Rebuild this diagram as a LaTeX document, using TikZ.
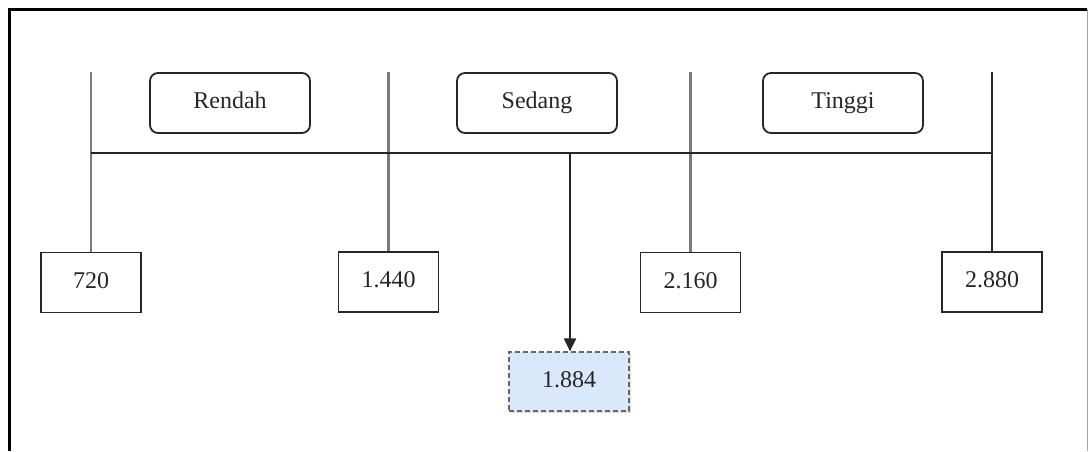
\documentclass[tikz,border=0pt]{standalone}
\usepackage{fontspec}
\setmainfont{Liberation Serif}
\usetikzlibrary{arrows.meta,shadows}
\definecolor{noteblue}{HTML}{DAE8FC}
\definecolor{tickgray}{HTML}{7A7A7A}
\tikzset{
  lbl/.style={font=\fontsize{24}{26}\selectfont, text=black!85,
    text height=16pt, text depth=5pt},
  valbox/.style={lbl, draw=black!85, line width=1.8pt, fill=white,
    minimum width=100pt, minimum height=60pt, inner sep=0pt},
  catbox/.style={lbl, draw=black!85, line width=1.8pt, fill=white,
    rounded corners=8pt, minimum width=160pt, minimum height=60pt, inner sep=0pt},
  resbox/.style={lbl, draw=black!60, dash pattern=on 5pt off 3pt, line width=1.2pt,
    fill=noteblue, minimum width=120pt, minimum height=59pt, inner sep=0pt,
    drop shadow={opacity=0.25, shadow xshift=2pt, shadow yshift=-2pt}},
  tick/.style={draw=tickgray, line width=2.6pt},
  axis/.style={draw=black!85, line width=2pt},
  frame/.style={draw=black, line width=3pt}
}
\begin{document}
\begin{tikzpicture}[x=1pt,y=-1pt]
  \useasboundingbox (0,0) rectangle (1088,451);
  % outer frame
  \draw[frame] (9,451) -- (9,9) -- (1087,9);
  \draw[draw=gray!70, line width=1pt] (1087,9) -- (1087,451);

  % category labels
  \node[catbox] (rendah) at (230,103) {Rendah};
  \node[catbox] (sedang) at (537,103) {Sedang};
  \node[catbox] (tinggi) at (843,103) {Tinggi};

  % boundary values
  \node[valbox] (v1) at (91,282.5) {720};
  \node[valbox] (v2) at (388.5,282) {1.440};
  \node[valbox] (v3) at (690.5,282.5) {2.160};
  \node[valbox] (v4) at (992,282) {2.880};

  % result value
  \node[resbox] (res) at (569,381.5) {1.884};

  % tick tops
  \coordinate (t1) at (91,72);
  \coordinate (t2) at (388.5,72);
  \coordinate (t3) at (690.5,72);
  \coordinate (t4) at (992,72);

  % ticks down to the boundary boxes
  \draw[tick] (t1) -- (v1.north);
  \draw[tick] (t2) -- (v2.north);
  \draw[tick] (t3) -- (v3.north);
  \draw[axis] (t4) -- (v4.north);

  % scale line
  \coordinate (h1) at (91,153);
  \coordinate (h4) at (992,153);
  \draw[axis] (h1) -- (h4);

  % pointer to the result
  \coordinate (p) at (570,153);
  \draw[axis, -{Triangle[length=13pt,width=12pt]}] (p) -- (p |- res.north);
\end{tikzpicture}
\end{document}
